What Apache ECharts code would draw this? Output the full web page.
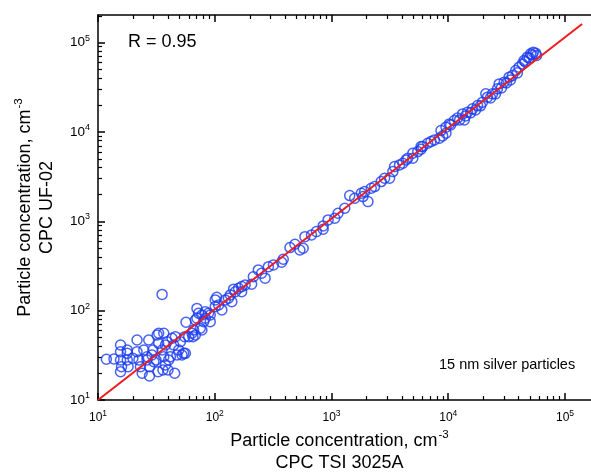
<!DOCTYPE html>
<html>
<head>
<meta charset="utf-8">
<script src="https://cdn.jsdelivr.net/npm/echarts@6/dist/echarts.min.js"></script>
<style>
  html, body { margin: 0; padding: 0; background: #fff; }
  #chart { width: 591px; height: 473px; }
</style>
</head>
<body>
<div id="chart"></div>
<script>
// measured points, [TSI 3025A, UF-02] in cm^-3
const lowPoints = [
  [11.8, 28.6], [13.7, 28.8], [15.6, 41.3], [15.6, 34.7], [15.6, 28.0], [15.9, 23.6], [15.6, 20.7],
  [17.8, 33.3], [17.8, 28.0], [17.8, 36.3], [18.1, 23.6], [19.9, 29.3], [21.6, 47.0], [21.6, 34.7],
  [22.4, 28.0], [23.1, 23.6], [23.9, 19.9], [24.7, 36.3], [26.3, 30.5], [26.3, 28.0], [27.2, 47.0],
  [27.6, 23.6], [27.6, 18.6], [29.0, 31.9], [29.5, 36.3], [30.1, 26.8], [31.4, 28.0], [32.1, 53.4],
  [33.1, 43.1], [33.1, 55.8], [32.7, 20.7], [35.4, 152], [36.6, 55.8], [35.4, 36.3], [36.6, 30.5],
  [36.0, 21.7], [37.8, 24.7], [37.8, 41.3], [39.0, 45.0], [39.8, 21.7], [40.3, 28.0], [41.7, 30.5],
  [43.1, 49.1], [44.5, 41.3], [45.4, 19.9], [46.0, 51.2], [47.5, 31.9], [49.1, 36.3], [52.4, 31.9],
  [50.8, 45.0], [54.2, 33.3], [56.0, 33.3], [56.7, 74.2], [55.3, 51.2], [59.8, 51.2], [63.8, 55.8],
  [65.0, 51.0], [65.9, 60.8], [68.2, 53.4], [68.2, 78.7], [70.4, 106], [70.4, 82.2], [72.7, 93.5],
  [75.2, 63.5], [77.6, 60.8], [77.6, 89.5], [80.3, 75.3], [83.0, 97.4], [83.0, 82.2], [88.5, 93.5],
  [91.5, 89.5], [91.5, 75.3]
]
const midPoints = [
  [101, 132], [101, 111], [104, 141], [108, 116], [115, 102], [123, 132], [131, 138], [136, 150],
  [140, 126], [145, 174], [150, 163], [160, 178], [170, 163], [170, 186], [182, 194], [207, 198],
  [214, 240], [236, 286], [252, 262], [270, 231], [288, 311], [318, 325], [374, 348], [386, 376],
  [441, 508], [486, 554], [536, 478], [572, 500], [592, 674], [674, 704], [743, 767], [848, 816],
  [848, 888], [935, 1037], [1067, 1083], [1138, 1232], [1299, 1402], [1432, 1941], [1580, 1814],
  [1800, 2064], [1860, 1891], [1923, 2151], [2053, 1662], [2190, 2349], [2342, 2447], [2666, 2784],
  [2850, 3038], [3144, 3038], [3355, 3603], [3468, 4100], [3826, 4281], [4082, 4473], [4356, 4872],
  [4504, 5090], [4969, 5090], [4969, 5789], [5483, 6032], [5850, 6417], [5850, 6863], [6049, 6863],
  [6673, 7493], [7118, 7806], [7610, 8157], [8398, 8523], [8960, 9045], [9559, 9697]
]
const highPoints = [
  [8664, 10369], [9559, 11320], [10218, 12323], [10482, 12009], [11274, 13425], [12030, 14387],
  [12510, 13660], [13276, 15949], [13724, 13660], [14078, 15150], [14640, 16663], [15530, 16370],
  [16152, 18148], [17130, 17680], [17818, 19758], [18900, 19610], [19656, 21569], [20977, 26715],
  [21690, 24533], [23010, 24090], [23925, 26715], [25380, 26715], [26394, 30392], [27290, 34556],
  [28550, 31180], [30108, 36110], [31500, 35460], [33211, 41090], [34080, 38320], [35438, 42820],
  [37818, 48710], [39110, 45900], [40438, 53180], [43131, 57880], [44598, 63040], [45760, 60950],
  [47594, 68800], [49500, 67560], [50770, 74930], [52490, 73040], [53560, 78290], [56020, 76290],
  [57130, 71720]
]
const fitLine = [[10, 10], [140000, 162000]]

const xMin = 10, xMax = 167000
const yMin = 10, yMax = 204000
const majorTicks = [10, 100, 1000, 10000, 100000]
const minorTicks = []
majorTicks.forEach((d) => {
  for (let m = 2; m <= 9; m++) minorTicks.push(m * d)
})

const font = '"Liberation Sans", Arial, Helvetica, sans-serif'
const xTickRich = {
  b: { fontSize: 12, fontFamily: font, color: '#000' },
  s: { fontSize: 8.5, fontFamily: font, color: '#000', padding: [0, 0, 8, 0] },
}
const yTickRich = {
  b: { fontSize: 13.5, fontFamily: font, color: '#000' },
  s: { fontSize: 9, fontFamily: font, color: '#000', padding: [0, 0, 9, 0] },
}
const powLabel = (v) => '{b|10}{s|' + Math.round(Math.log10(v)) + '}'
const nameRich = {
  t: { fontSize: 18, fontFamily: font, color: '#000', lineHeight: 22 },
  sup: { fontSize: 11.5, fontFamily: font, color: '#000', lineHeight: 22, padding: [0, 0, 13, 1] },
}
const axisName = '{t|Particle concentration, cm}{sup|-3}\n{t|CPC TSI 3025A}'
const yAxisName = '{t|Particle concentration, cm}{sup|-3}\n{t|CPC UF-02}'

const line = { lineStyle: { color: '#000', width: 1.5 } }

function majorX(pos, withLabel) {
  return {
    type: 'log', position: pos, min: xMin, max: xMax,
    axisLine: { show: true, onZero: false, ...line },
    axisTick: { show: true, inside: true, length: 7, customValues: majorTicks, ...line },
    axisLabel: withLabel
      ? { show: true, customValues: majorTicks, margin: 9, formatter: powLabel, rich: xTickRich }
      : { show: false },
    splitLine: { show: false },
    minorTick: { show: false },
  }
}
function minorX(pos) {
  return {
    type: 'log', position: pos, min: xMin, max: xMax,
    axisLine: { show: false, onZero: false },
    axisTick: { show: true, inside: true, length: 4, customValues: minorTicks, lineStyle: { color: '#000', width: 1.2 } },
    axisLabel: { show: false },
    splitLine: { show: false },
  }
}

const chart = echarts.init(document.getElementById('chart'))
chart.setOption({
  animation: false,
  backgroundColor: '#fff',
  grid: { left: 98, right: 0, top: 15, bottom: 73, outerBoundsMode: 'none', containLabel: false },
  xAxis: [
    {
      ...majorX('bottom', true),
      name: axisName,
      nameLocation: 'middle',
      nameGap: 30,
      nameTextStyle: { rich: nameRich, align: 'center', padding: [0, 10, 0, 0] },
    },
    minorX('bottom'),
    majorX('top', false),
    minorX('top'),
  ],
  yAxis: [
    {
      type: 'log', position: 'left', min: yMin, max: yMax,
      axisLine: { show: true, onZero: false, ...line },
      axisTick: { show: true, inside: true, length: 7, customValues: majorTicks, ...line },
      axisLabel: { show: true, customValues: majorTicks, margin: 8, formatter: powLabel, rich: yTickRich },
      splitLine: { show: false },
      name: yAxisName,
      nameLocation: 'middle',
      nameRotate: 90,
      nameGap: 40,
      nameTextStyle: { rich: nameRich, align: 'center' },
    },
    {
      type: 'log', position: 'left', min: yMin, max: yMax,
      axisLine: { show: false, onZero: false },
      axisTick: { show: true, inside: true, length: 4, customValues: minorTicks, lineStyle: { color: '#000', width: 1.2 } },
      axisLabel: { show: false },
      splitLine: { show: false },
    },
  ],
  graphic: [
    {
      type: 'text', left: 128, top: 33,
      style: { text: 'R = 0.95', fontSize: 18, fontFamily: font, fill: '#000' },
    },
    {
      type: 'text', left: 439, top: 357,
      style: { text: '15 nm silver particles', fontSize: 14.5, fontFamily: font, fill: '#000' },
    },
  ],
  series: [
    {
      type: 'scatter',
      xAxisIndex: 0,
      yAxisIndex: 0,
      symbol: 'circle',
      symbolSize: 10,
      itemStyle: { color: 'rgba(255,255,255,0)', borderColor: '#1a3cf0', borderWidth: 1.5 },
      data: [...lowPoints, ...midPoints, ...highPoints],
      z: 2,
    },
    {
      type: 'line',
      xAxisIndex: 0,
      yAxisIndex: 0,
      data: fitLine,
      symbol: 'none',
      lineStyle: { color: '#ee1c1c', width: 2 },
      z: 3,
    },
  ],
})
</script>
</body>
</html>
